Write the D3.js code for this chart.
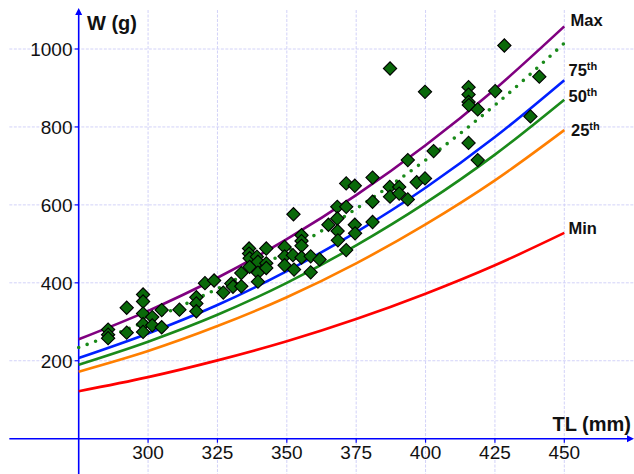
<!DOCTYPE html>
<html>
<head>
<meta charset="utf-8">
<script src="https://cdn.jsdelivr.net/npm/d3@7"></script>
<style>
  html, body { margin: 0; padding: 0; background: #fff; }
  svg { display: block; }
  text { font-family: "Liberation Sans", Arial, sans-serif; }
</style>
</head>
<body>
<svg id="chart" width="634" height="474"></svg>
<script>
// ---- data ----
const xTicks = [300, 325, 350, 375, 400, 425, 450];
const yTicks = [200, 400, 600, 800, 1000];

const curveTL     = [275, 300, 325, 350, 375, 400, 425, 450];
const curveMax    = [255, 328, 413, 512, 625, 753, 897, 1058];
const curveDotted = [234, 303, 385, 480, 590, 715, 856, 1015];
const curveBlue   = [207, 270, 343, 430, 530, 644, 774, 920];
const curveGreen  = [190, 249, 318, 400, 496, 605, 729, 870];
const curveOrange = [172, 225, 289, 363, 450, 550, 663, 792];
const curveMin    = [122, 158, 201, 250, 307, 372, 445, 528];

const fishTL = [285.6, 285.6, 285.6, 292.3, 292.3, 298.2, 298.2, 298.2, 298.2, 298.2,
                301.5, 301.5, 304.9, 304.9, 311.3, 317.4, 317.4, 317.4, 320.5, 323.8,
                327.1, 330.0, 330.6, 333.6, 333.6, 336.4, 336.4, 336.6, 336.6, 339.2,
                339.6, 339.6, 339.6, 342.6, 342.6, 342.6, 349.2, 349.2, 349.2, 352.2,
                352.6, 352.4, 355.3, 355.3, 355.3, 355.3, 358.6, 358.6, 361.8, 365.0,
                368.2, 368.2, 368.3, 368.4, 371.4, 371.4, 371.4, 374.5, 374.5, 374.6,
                380.9, 380.9, 380.9, 387.1, 387.2, 390.5, 390.5, 393.6, 393.6, 396.8,
                399.8, 402.9, 387.2, 399.8, 415.5, 415.5, 415.5, 415.6, 418.8, 425.1,
                428.4, 441.0, 437.8, 415.5, 418.8];
const fishW  = [280, 267, 258, 336, 272, 370, 352, 321, 294, 274,
                312, 291, 330, 286, 331, 363, 347, 327, 399, 406,
                375, 398, 390, 391, 425, 488, 475, 463, 441, 467,
                454, 426, 403, 488, 450, 438, 492, 468, 445, 471,
                434, 576, 522, 507, 495, 465, 468, 427, 460, 549,
                595, 565, 533, 509, 595, 484, 655, 649, 549, 527,
                670, 608, 556, 646, 621, 646, 629, 614, 715, 658,
                668, 738, 950, 890, 902, 883, 864, 856, 845, 892,
                1009, 929, 827, 759, 715];

// ---- drawing ----
const svg = d3.select("#chart");
const x = d3.scaleLinear().domain([275, 450]).range([78.7, 564.3]);
const y = d3.scaleLinear().domain([0, 1000]).range([438.7, 49]);

const gridColor = "#d2d2f8";
// vertical grid
const gx = [300, 325, 350, 375, 400, 425, 450];
svg.append("g").selectAll("line").data(gx).join("line")
  .attr("x1", d => x(d)).attr("x2", d => x(d))
  .attr("y1", y(1100)).attr("y2", 474)
  .attr("stroke", gridColor).attr("stroke-width", 1).attr("stroke-dasharray", "3,1.5");
// horizontal grid
svg.append("g").selectAll("line").data(yTicks).join("line")
  .attr("x1", x(250)).attr("x2", 634)
  .attr("y1", d => y(d)).attr("y2", d => y(d))
  .attr("stroke", gridColor).attr("stroke-width", 1).attr("stroke-dasharray", "3,1.5");

// axes
const axisColor = "#0000ff";
svg.append("line").attr("x1", x(275)).attr("x2", x(275)).attr("y1", 474).attr("y2", 12)
  .attr("stroke", axisColor).attr("stroke-width", 1.6);
svg.append("path")
  .attr("d", `M${x(275)},8 L${x(275)-3.5},15 L${x(275)+3.5},15 Z`).attr("fill", axisColor);
svg.append("line").attr("x1", x(250)).attr("x2", 628).attr("y1", y(0)).attr("y2", y(0))
  .attr("stroke", axisColor).attr("stroke-width", 1.6);
svg.append("path")
  .attr("d", `M634,${y(0)} L627,${y(0)-3.5} L627,${y(0)+3.5} Z`).attr("fill", axisColor);

// ticks
svg.append("g").selectAll("line").data(yTicks).join("line")
  .attr("x1", x(275) - 4).attr("x2", x(275))
  .attr("y1", d => y(d)).attr("y2", d => y(d))
  .attr("stroke", axisColor).attr("stroke-width", 1.2);
svg.append("g").selectAll("line").data(xTicks).join("line")
  .attr("x1", d => x(d)).attr("x2", d => x(d))
  .attr("y1", y(0)).attr("y2", y(0) + 4)
  .attr("stroke", axisColor).attr("stroke-width", 1.2);

// tick labels
svg.append("g").selectAll("text").data(yTicks).join("text")
  .attr("x", 72.5).attr("y", d => y(d) + 7)
  .attr("text-anchor", "end").attr("font-size", 19).attr("fill", "#111")
  .text(d => d);
svg.append("g").selectAll("text").data(xTicks).join("text")
  .attr("x", d => x(d)).attr("y", 459)
  .attr("text-anchor", "middle").attr("font-size", 19).attr("fill", "#111")
  .text(d => d);

// axis titles
svg.append("text").attr("x", 87).attr("y", 30).attr("font-size", 20).attr("font-weight", "bold")
  .attr("fill", "#111").text("W (g)");
svg.append("text").attr("x", 631).attr("y", 431).attr("text-anchor", "end")
  .attr("font-size", 20).attr("font-weight", "bold").attr("fill", "#111").text("TL (mm)");

// curves
const line = d3.line().x(d => x(d[0])).y(d => y(d[1])).curve(d3.curveMonotoneX);
const series = [
  { v: curveMin,    color: "#ff0000" },
  { v: curveOrange, color: "#ff7f00" },
  { v: curveGreen,  color: "#1a8a1a" },
  { v: curveBlue,   color: "#0020ff" },
  { v: curveMax,    color: "#800080" },
];
series.forEach(s => {
  svg.append("path").datum(curveTL.map((t, i) => [t, s.v[i]]))
    .attr("d", line).attr("fill", "none")
    .attr("stroke", s.color).attr("stroke-width", 2.6);
});
svg.append("path").datum(curveTL.map((t, i) => [t, curveDotted[i]]))
  .attr("d", line).attr("fill", "none")
  .attr("stroke", "#1a8a1a").attr("stroke-width", 3.6)
  .attr("stroke-linecap", "round").attr("stroke-dasharray", "0,9");

// points
const pts = fishTL.map((t, i) => [t, fishW[i]]);
svg.append("g").selectAll("path").data(pts).join("path")
  .attr("d", d3.symbol().type(d3.symbolSquare).size(88))
  .attr("transform", d => `translate(${x(d[0])},${y(d[1])}) rotate(45)`)
  .attr("fill", "#0a690a").attr("stroke", "#000").attr("stroke-width", 1.1);

// curve labels
const labels = [
  { t: "Max", sup: "",   x: 570.5, y: 25.5 },
  { t: "75",  sup: "th", x: 568.5, y: 76 },
  { t: "50",  sup: "th", x: 568.5, y: 101.5 },
  { t: "25",  sup: "th", x: 571,   y: 135.5 },
  { t: "Min", sup: "",   x: 568.5, y: 234.3 },
];
labels.forEach(l => {
  const tx = svg.append("text").attr("x", l.x).attr("y", l.y)
    .attr("font-size", 16.5).attr("font-weight", "bold").attr("fill", "#111");
  tx.append("tspan").text(l.t);
  if (l.sup) tx.append("tspan").attr("dy", -6).attr("font-size", 11).text(l.sup);
});
</script>
</body>
</html>
